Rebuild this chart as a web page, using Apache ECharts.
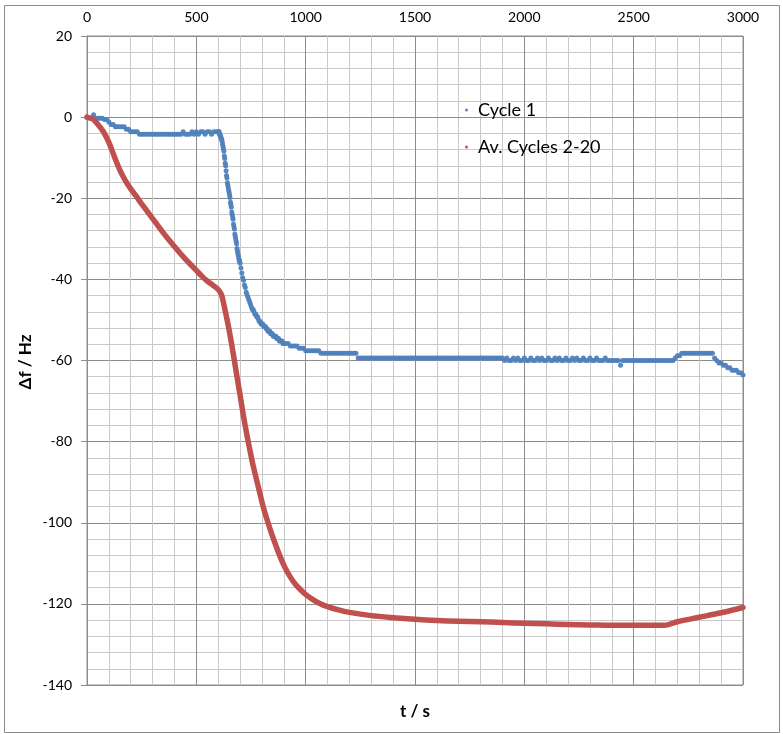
<!DOCTYPE html>
<html>
<head>
<meta charset="utf-8">
<script src="https://cdn.jsdelivr.net/npm/echarts@6/dist/echarts.min.js"></script>
<style>
  html, body { margin: 0; padding: 0; background: #fff; }
  #chart { width: 783px; height: 734px; }
</style>
</head>
<body>
<div id="chart"></div>
<script>
// Frequency shift of the quartz crystal, Cycle 1 sampled in segments
// (start time, step in seconds, readings in Hz).
const cycle1SegA = { t0: 0, dt: 10, df: [
  0, -0.3, -0.3, 0.6, -0.3, -0.3, -0.3, -0.3, -0.6, -0.6,
  -1.2, -1.8, -1.8, -2.4, -2.4, -2.4, -2.4, -2.4, -3.0, -3.0,
  -3.6, -3.6, -3.6, -3.6, -4.2, -4.2, -4.2, -4.2, -4.2, -4.2,
  -4.2, -4.2, -4.2, -4.2, -4.2, -4.2, -4.2, -4.2, -4.2, -4.2,
  -4.2, -4.2, -4.2, -4.2, -3.6, -4.2, -4.2, -4.2, -3.6, -4.2,
  -3.6, -4.2, -3.6, -3.6, -4.2, -3.6, -3.6, -4.2, -3.6, -3.6,
  -3.6
]};
const cycle1SegB = { t0: 602, dt: 2, df: [
  -3.6, -3.6, -4.2, -4.2, -4.8, -4.8, -5.4, -5.4, -6.0, -6.6,
  -7.2, -7.8, -8.4, -9.6, -10.2, -11.4, -12.0, -13.2, -14.4, -15.0,
  -16.2, -16.8, -17.4, -18.0, -18.6, -19.2, -19.8, -21.0, -21.6, -22.2,
  -23.4, -24.0, -24.6, -25.2, -26.4, -27.0, -27.6, -28.8, -29.4, -30.0,
  -30.6, -31.2, -32.4, -33.0, -33.6, -34.2, -34.8, -35.4, -35.4, -36.0
]};
const cycle1SegC = { t0: 704, dt: 4, df: [
  -37.2, -38.4, -39.6, -40.2, -41.4, -42.0, -43.2, -43.8, -44.4, -45.0,
  -45.6, -46.2, -46.8, -47.4, -47.4, -48.0, -48.6, -48.6, -49.2, -49.2,
  -49.8, -50.4, -50.4, -51.0, -51.0, -51.0, -51.6, -51.6, -51.6, -52.2,
  -52.2, -52.8, -52.8, -52.8, -53.4, -53.4, -53.4, -54.0, -54.0, -54.0,
  -54.0, -54.6, -54.6, -54.6, -55.2, -55.2, -55.2, -55.2, -55.8, -55.8
]};
const cycle1SegD = { t0: 910, dt: 10, df: [
  // 910 - 1060
  -55.8, -55.8, -56.4, -56.4, -56.4, -56.4, -57.0, -57.0, -57.0, -57.6,
  -57.6, -57.6, -57.6, -57.6, -57.6, -57.6,
  // 1070 - 1230
  -58.2, -58.2, -58.2, -58.2, -58.2, -58.2, -58.2, -58.2, -58.2, -58.2,
  -58.2, -58.2, -58.2, -58.2, -58.2, -58.2, -58.2,
  // 1240 - 1890
  -59.4, -59.4, -59.4, -59.4, -59.4, -59.4, -59.4, -59.4, -59.4, -59.4,
  -59.4, -59.4, -59.4, -59.4, -59.4, -59.4, -59.4, -59.4, -59.4, -59.4,
  -59.4, -59.4, -59.4, -59.4, -59.4, -59.4, -59.4, -59.4, -59.4, -59.4,
  -59.4, -59.4, -59.4, -59.4, -59.4, -59.4, -59.4, -59.4, -59.4, -59.4,
  -59.4, -59.4, -59.4, -59.4, -59.4, -59.4, -59.4, -59.4, -59.4, -59.4,
  -59.4, -59.4, -59.4, -59.4, -59.4, -59.4, -59.4, -59.4, -59.4, -59.4,
  -59.4, -59.4, -59.4, -59.4, -59.4, -59.4,
  // 1900 - 2650
  -59.4, -60.0, -59.4, -60.0, -60.0, -59.4, -60.0, -59.4, -60.0, -60.0,
  -59.4, -60.0, -60.0, -59.4, -60.0, -60.0, -59.4, -60.0, -59.4, -60.0,
  -60.0, -59.4, -60.0, -60.0, -59.4, -60.0, -59.4, -60.0, -60.0, -59.4,
  -60.0, -60.0, -59.4, -60.0, -59.4, -60.0, -60.0, -59.4, -60.0, -60.0,
  -59.4, -60.0, -60.0, -59.4, -60.0, -60.0, -60.0, -59.4, -60.0, -60.0,
  -60.0, -60.0, -60.0, -60.0, -61.2, -60.0, -60.0, -60.0, -60.0, -60.0,
  -60.0, -60.0, -60.0, -60.0, -60.0, -60.0, -60.0, -60.0, -60.0, -60.0,
  -60.0, -60.0, -60.0, -60.0, -60.0, -60.0,
  // 2660 - 3000
  -60.0, -60.0, -60.0, -59.4, -58.8, -58.8,
  -58.2, -58.2, -58.2, -58.2, -58.2, -58.2, -58.2, -58.2, -58.2, -58.2,
  -58.2, -58.2, -58.2, -58.2, -58.2,
  -59.4, -60.0, -60.6, -60.6, -61.2, -61.2, -61.8, -61.8, -62.4, -62.4,
  -62.4, -63.0, -63.0, -63.6
]};

// Average over cycles 2-20: time (s) and frequency shift (Hz)
const avTime = [
  0, 25, 50, 75, 100, 125, 150, 175, 200, 225,
  250, 275, 300, 325, 350, 375, 400, 425, 450, 475,
  500, 525, 550, 575, 600, 615, 625, 640, 650, 660,
  670, 685, 700, 715, 730, 745, 760, 775, 790, 806,
  825, 845, 865, 885, 905, 930, 955, 980, 1005, 1035,
  1065, 1100, 1150, 1200, 1300, 1400, 1500, 1600, 1700, 1800,
  1900, 2000, 2100, 2200, 2300, 2400, 2500, 2640, 2700, 2800,
  2900, 3000
];
const avDf = [
  0, -0.4, -1.8, -3.6, -6.2, -9.7, -13.0, -15.6, -17.7, -19.5,
  -21.4, -23.2, -25.0, -26.8, -28.6, -30.3, -31.9, -33.5, -35.0, -36.4,
  -37.8, -39.2, -40.4, -41.4, -42.5, -43.8, -46.0, -49.8, -52.5, -55.5,
  -58.7, -63.7, -68.5, -73.5, -78.0, -82.1, -86.0, -89.3, -92.6, -96.1,
  -99.5, -102.8, -105.8, -108.6, -111.0, -113.4, -115.3, -116.7, -117.9, -119.0,
  -119.9, -120.7, -121.5, -122.1, -122.9, -123.4, -123.8, -124.1, -124.3, -124.4,
  -124.6, -124.8, -124.9, -125.1, -125.2, -125.3, -125.3, -125.3, -124.4, -123.3,
  -122.2, -120.9
];

// Axis tick labels along t and Δf
const tTicks = [0, 500, 1000, 1500, 2000, 2500, 3000];
const dfTicks = [20, 0, -20, -40, -60, -80, -100, -120, -140];

const seriesNames = ['Cycle 1', 'Av. Cycles 2-20'];
const colors = ['#4F81BD', '#C0504D'];

function expand(seg) {
  return seg.df.map((v, i) => [seg.t0 + i * seg.dt, v]);
}
const cycle1Points = [cycle1SegA, cycle1SegB, cycle1SegC, cycle1SegD]
  .map(expand).reduce((a, b) => a.concat(b), []);
const avPoints = avTime.map((t, i) => [t, avDf[i]]);

const FONT = 'Lato, "Open Sans", sans-serif';
const majorGrid = '#8c8c8c';
const minorGrid = '#c9c9c9';

const chart = echarts.init(document.getElementById('chart'), null, { renderer: 'canvas' });
chart.setOption({
  animation: false,
  backgroundColor: '#ffffff',
  textStyle: { fontFamily: FONT },
  grid: {
    left: 87, right: 40, top: 36, bottom: 49,
    show: true, borderColor: majorGrid, borderWidth: 1
  },
  legend: {
    orient: 'vertical',
    left: 460,
    top: 94,
    itemWidth: 3,
    itemHeight: 3,
    itemGap: 15,
    icon: 'circle',
    data: seriesNames,
    textStyle: {
      fontFamily: FONT, fontSize: 18, color: '#000',
      lineHeight: 22, padding: [0, 0, 0, 5]
    }
  },
  xAxis: {
    type: 'value',
    position: 'top',
    min: tTicks[0],
    max: tTicks[tTicks.length - 1],
    interval: tTicks[1] - tTicks[0],
    axisLine: { show: true, lineStyle: { color: majorGrid } },
    axisTick: { show: true, length: 5, lineStyle: { color: majorGrid } },
    axisLabel: {
      fontFamily: FONT, fontSize: 14, color: '#000', margin: 12,
      formatter: (v) => String(v)
    },
    splitLine: { show: true, lineStyle: { color: majorGrid, width: 1 } },
    minorTick: { show: false, splitNumber: 5 },
    minorSplitLine: { show: true, lineStyle: { color: minorGrid, width: 1 } }
  },
  yAxis: {
    type: 'value',
    min: dfTicks[dfTicks.length - 1],
    max: dfTicks[0],
    interval: dfTicks[0] - dfTicks[1],
    axisLine: { show: true, lineStyle: { color: majorGrid } },
    axisTick: { show: true, length: 6, lineStyle: { color: majorGrid } },
    axisLabel: {
      fontFamily: FONT, fontSize: 14, color: '#000', margin: 15,
      formatter: (v) => String(v)
    },
    splitLine: { show: true, lineStyle: { color: majorGrid, width: 1 } },
    minorTick: { show: false, splitNumber: 5 },
    minorSplitLine: { show: true, lineStyle: { color: minorGrid, width: 1 } }
  },
  series: [
    {
      name: seriesNames[0],
      type: 'scatter',
      data: cycle1Points,
      symbol: 'circle',
      symbolSize: 5,
      itemStyle: { color: colors[0], opacity: 0.95 },
      z: 2
    },
    {
      name: seriesNames[1],
      type: 'line',
      data: avPoints,
      smooth: 0.3,
      showSymbol: false,
      symbol: 'circle',
      lineStyle: { color: colors[1], width: 5.5, cap: 'round', join: 'round' },
      itemStyle: { color: colors[1] },
      z: 3
    }
  ],
  graphic: [
    {
      type: 'rect',
      shape: { x: 4.5, y: 5.5, width: 775, height: 727 },
      style: { fill: 'none', stroke: '#8c8c8c', lineWidth: 1 },
      silent: true, z: -10
    },
    {
      type: 'text',
      x: 415, y: 712,
      style: {
        text: 't / s', fontFamily: FONT, fontSize: 17, fontWeight: 'bold',
        fill: '#000', align: 'center', verticalAlign: 'middle'
      }
    },
    {
      type: 'text',
      x: 26, y: 362,
      rotation: Math.PI / 2,
      style: {
        text: 'Δf / Hz', fontFamily: FONT, fontSize: 17, fontWeight: 'bold',
        fill: '#000', align: 'center', verticalAlign: 'middle'
      }
    }
  ]
});
</script>
</body>
</html>
